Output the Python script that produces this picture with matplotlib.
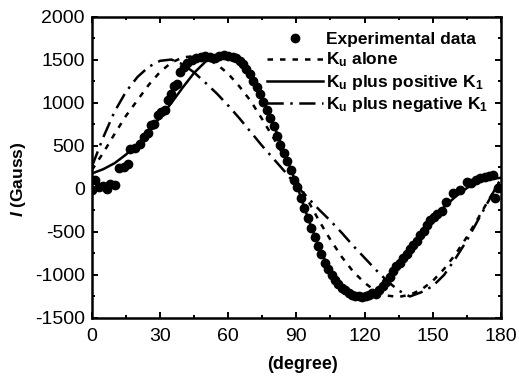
"""Magnetisation vs field angle: experiment and three anisotropy fits."""
import matplotlib
matplotlib.use("Agg")
import matplotlib.pyplot as plt
from matplotlib.ticker import MultipleLocator

plt.rcParams["font.family"] = ["Liberation Sans", "DejaVu Sans"]
plt.rcParams["mathtext.fontset"] = "custom"
plt.rcParams["mathtext.rm"] = "Liberation Sans:bold"
plt.rcParams["mathtext.bf"] = "Liberation Sans:bold"
plt.rcParams["mathtext.it"] = "Liberation Sans:bold:italic"
plt.rcParams["axes.unicode_minus"] = False

# experimental points (degree, Gauss)
exp_deg = [0, 1.5, 3, 5, 6.5, 8, 10, 12, 14, 16,
           17, 19, 21, 23, 24.5, 26, 27.5, 29, 30.5, 32,
           33.5, 35, 36, 37.5, 39, 40.5, 42, 44, 46, 48,
           50, 52, 54, 56, 58, 60, 62, 63.5, 65, 66.5,
           68, 69.5, 71, 72.5, 74, 75.5, 77, 78.5, 80, 81.5,
           83, 84.5, 86, 87.5, 89, 90.5, 92, 93.5, 95, 96.5,
           98, 99.5, 101, 102.5, 104, 105.5, 107, 108.5, 110, 111.5,
           113, 114.5, 116, 117.5, 119, 120.5, 122, 123.5, 125, 126.5,
           128, 129.5, 131, 132.5, 134, 135.5, 137, 138.5, 140, 141.5,
           143, 144.5, 146, 147.5, 149, 150.5, 152, 154, 156, 159,
           162, 165, 167, 169, 171, 173, 175, 176.6, 177.4, 178.8]
exp_val = [-10, 100, 20, 40, 0, 60, 50, 240, 260, 290,
           470, 480, 520, 600, 650, 740, 750, 860, 900, 920,
           1030, 1100, 1200, 1220, 1360, 1420, 1460, 1500, 1520, 1540,
           1550, 1530, 1520, 1550, 1560, 1550, 1540, 1520, 1490, 1450,
           1400, 1340, 1260, 1180, 1100, 1010, 920, 830, 730, 620,
           510, 420, 320, 220, 110, 20, -100, -220, -340, -450,
           -560, -660, -760, -860, -930, -1000, -1060, -1110, -1150, -1180,
           -1210, -1230, -1240, -1250, -1255, -1240, -1230, -1210, -1220, -1180,
           -1130, -1080, -1020, -950, -900, -860, -800, -760, -700, -650,
           -600, -540, -490, -420, -360, -320, -290, -260, -150, -50,
           -10, 85, 66, 110, 124, 140, 150, 163, -105, 10]

# model curves on a common angle grid
fit_deg = [0, 5, 10, 15, 20, 25, 30, 35, 40, 45, 50, 55, 60, 65, 70, 75, 80, 85,
           90, 95, 100, 105, 110, 115, 120, 125, 130, 135, 140, 145, 150, 155,
           160, 165, 170, 175, 180]
ku_alone = [220, 420, 640, 850, 1030, 1210, 1360, 1470, 1530, 1545, 1520, 1450,
            1340, 1190, 1020, 810, 590, 360, 110, -130, -370, -590, -790, -960,
            -1090, -1190, -1240, -1255, -1230, -1170, -1070, -930, -760, -560,
            -340, -110, 110]
ku_pos_k1 = [180, 230, 300, 400, 520, 670, 830, 1000, 1180, 1350, 1480, 1545,
             1550, 1480, 1320, 1060, 750, 410, 60, -330, -680, -960, -1150, -1235,
             -1250, -1200, -1070, -890, -700, -520, -350, -210, -90, 10, 80, 115,
             130]
ku_neg_k1 = [260, 600, 900, 1130, 1300, 1420, 1490, 1505, 1450, 1355, 1235,
             1110, 970, 820, 660, 500, 350, 200, 40, -100, -240, -370, -510, -660,
             -800, -940, -1070, -1180, -1250, -1200, -1130, -1000, -810, -600,
             -360, -120, 120]

fig = plt.figure(figsize=(5.19, 3.77), dpi=100)
ax = fig.add_axes([0.177, 0.1565, 0.788, 0.7985])

ax.plot(exp_deg, exp_val, "o", color="black", ms=6, ls="none",
        label="Experimental data", zorder=3)
ax.plot(fit_deg, ku_alone, color="black", lw=1.8, ls=(0, (2.2, 2.8)),
        label=r"K$_\mathrm{u}$ alone")
ax.plot(fit_deg, ku_pos_k1, color="black", lw=1.8, ls="-",
        label=r"K$_\mathrm{u}$ plus positive K$_\mathrm{1}$")
ax.plot(fit_deg, ku_neg_k1, color="black", lw=1.8, ls=(0, (6.5, 2.6, 1, 2.6)),
        label=r"K$_\mathrm{u}$ plus negative K$_\mathrm{1}$")

ax.set_xlim(0, 180)
ax.set_ylim(-1500, 2000)
ax.xaxis.set_major_locator(MultipleLocator(30))
ax.xaxis.set_minor_locator(MultipleLocator(15))
ax.yaxis.set_major_locator(MultipleLocator(500))
ax.yaxis.set_minor_locator(MultipleLocator(250))
ax.tick_params(which="both", direction="in", top=True, right=True, width=1.4,
               labelsize=14)
ax.tick_params(which="major", length=4.5)
ax.tick_params(which="minor", length=2.5)
ax.tick_params(axis="x", pad=7)
ax.tick_params(axis="y", pad=5)
for sp in ax.spines.values():
    sp.set_linewidth(1.8)

ax.set_xlabel("(degree)", fontsize=13, fontweight="bold")
ax.set_ylabel(r"$I$ (Gauss)", fontsize=12.5, fontweight="bold")
ax.xaxis.set_label_coords(0.516, -0.126)
ax.yaxis.set_label_coords(-0.155, 0.46)

leg = ax.legend(loc="upper right", bbox_to_anchor=(1.0, 0.99), frameon=False,
                prop={"weight": "bold", "size": 12.5}, handlelength=3.2,
                handletextpad=0.2, labelspacing=0.2, borderaxespad=0.3)

fig.savefig("out.png", dpi=100)
plt.close(fig)
